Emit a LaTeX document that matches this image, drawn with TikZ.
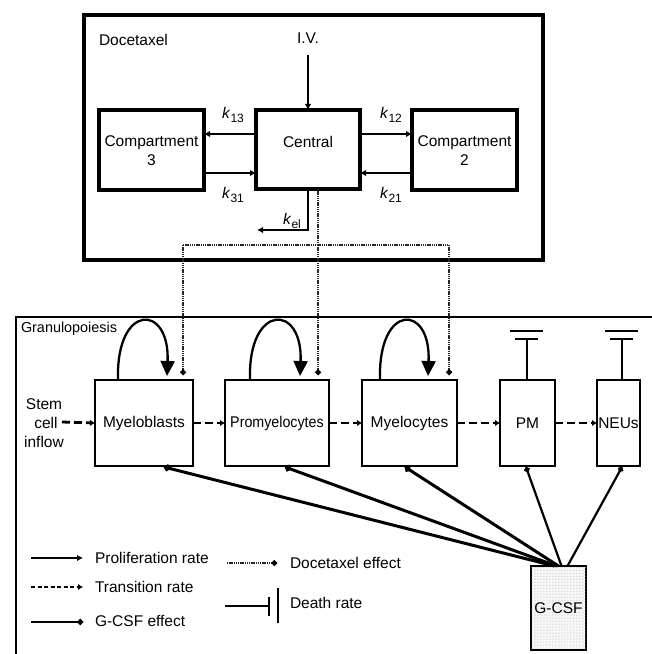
\documentclass[tikz,border=0pt]{standalone}
\usepackage{fontspec}
\setmainfont{Liberation Sans}
\usetikzlibrary{arrows.meta,patterns}
\newcommand{\ksub}[1]{\textit{k}\raisebox{-0.5ex}{\fontsize{12bp}{12bp}\selectfont #1}}
\begin{document}
\begin{tikzpicture}[x=1bp,y=-1bp,
  every node/.style={font=\fontsize{15.5bp}{19bp}\selectfont, inner sep=0pt, outer sep=0pt},
  frame/.style={draw, line width=3.2bp},
  pkbox/.style={draw, line width=3.2bp, minimum width=105bp, minimum height=80bp},
  cellbox/.style={draw, line width=2.2bp, minimum height=86bp},
  pk/.style={line width=2.8bp, -{Latex[length=6bp,width=6.5bp]}},
  trans/.style={line width=2.8bp, dash pattern=on 8bp off 4bp, -{Latex[length=5bp,width=6.5bp]}},
  prolif/.style={line width=2.3bp, -{Triangle[length=15bp,width=14bp]}},
  prolifleg/.style={line width=2.8bp, -{Latex[length=6bp,width=6.5bp]}},
  dotline/.style={line width=2.4bp, black!85, dash pattern=on 1.3bp off 0.9bp},
  doce/.style={dotline, -{Circle[length=5.5bp,black]}},
  gline/.style={line width=3bp, -{Circle[length=6.5bp]}},
  gthin/.style={line width=2.2bp, -{Circle[length=5.5bp]}},
  death/.style={line width=2.2bp},
]
\useasboundingbox (0,0) rectangle (652,654);

% ---------------- Docetaxel PK frame ----------------
\node[frame, minimum width=459bp, minimum height=245bp] (doc) at (313.5,137.5) {};
\node[anchor=west] (doclab) at (99,40) {Docetaxel};
\node (iv) at (308,38) {I.V.};
\node[pkbox, minimum width=104bp, minimum height=79bp] (cen) at (308,149.5) {};
\node (centxt) at (308,142) {Central};
\node[pkbox] (c3) at (151.5,150) {};
\node[align=center] (c3txt) at (151.5,150.5) {Compartment\\3};
\node[pkbox] (c2) at (464.5,150) {};
\node[align=center] (c2txt) at (464.5,150.5) {Compartment\\2};

\coordinate (ivs) at (308,55);
\draw[pk] (ivs) -- (cen.north);

\draw[pk] (cen.west |- 0,134) -- (c3.east |- 0,134);
\draw[pk] (c3.east |- 0,173) -- (cen.west |- 0,173);
\draw[pk] (cen.east |- 0,134) -- (c2.west |- 0,134);
\draw[pk] (c2.west |- 0,173) -- (cen.east |- 0,173);

\node (k13) at (233,115) {\ksub{13}};
\node (k31) at (233,195) {\ksub{31}};
\node (k12) at (391,115) {\ksub{12}};
\node (k21) at (391,195) {\ksub{21}};
\node (kel) at (292,221) {\ksub{el}};

\coordinate (kelc) at (308,230);
\coordinate (kele) at (257,230);
\draw[pk] (cen.south) -- (kelc) -- (kele);

% ---------------- Granulopoiesis frame ----------------
\draw[line width=2.8bp] (660,317) -- (16,317) -- (16,660);
\node[anchor=west, font=\fontsize{14.4bp}{17bp}\selectfont] (granlab) at (21,329) {Granulopoiesis};

\node[cellbox, minimum width=98bp] (mb) at (144,423) {Myeloblasts};
\node[cellbox, minimum width=104bp] (pro) at (277,423) {\scalebox{0.92}[1]{Promyelocytes}};
\node[cellbox, minimum width=95bp] (myc) at (409.5,423) {Myelocytes};
\node[cellbox, minimum width=55bp] (pm) at (527.5,423) {PM};
\node[cellbox, minimum width=43bp] (neu) at (618.5,423) {NEUs};

\node[align=center] (stem) at (44,423) {Stem\\\hspace*{4bp}cell\\inflow};
\coordinate (stemout) at (62,422);
\draw[trans] (stemout) -- (mb.west);
\draw[trans] (mb.east) -- (pro.west);
\draw[trans] (pro.east) -- (myc.west);
\draw[trans] (myc.east) -- (pm.west);
\draw[trans] (pm.east) -- (neu.west);

% self-renewal loops
\coordinate (mbL) at (118,379); \coordinate (mbR) at (167,376);
\coordinate (proL) at (250,379); \coordinate (proR) at (300,376);
\coordinate (mycL) at (380,379); \coordinate (mycR) at (428,376);
\draw[prolif] (mbL) .. controls (116,303) and (170,303) .. (mbR);
\draw[prolif] (proL) .. controls (248,303) and (303,303) .. (proR);
\draw[prolif] (mycL) .. controls (378,303) and (431,303) .. (mycR);

% docetaxel effect
\coordinate (dj) at (318,245);
\coordinate (dl) at (183,245);
\coordinate (dr) at (449,245);
\coordinate (mbD) at (183,375);
\coordinate (proD) at (318,375);
\coordinate (mycD) at (449,375);
\draw[dotline] (cen.south -| dj) -- (dj);
\draw[dotline] (dl) -- (dr);
\draw[doce] (dl) -- (mbD);
\draw[doce] (dj) -- (proD);
\draw[doce] (dr) -- (mycD);

% death rates
\coordinate (pmd) at (527,339);
\coordinate (neud) at (622,339);
\draw[death] (pm.north -| pmd) -- (pmd);
\draw[death] ([xshift=-12bp]pmd) -- ([xshift=11bp]pmd);
\draw[death] ([xshift=-17bp,yshift=8bp]pmd) -- ([xshift=16bp,yshift=8bp]pmd);
\draw[death] (neu.north -| neud) -- (neud);
\draw[death] ([xshift=-12bp]neud) -- ([xshift=11bp]neud);
\draw[death] ([xshift=-17bp,yshift=8bp]neud) -- ([xshift=16bp,yshift=8bp]neud);

% G-CSF
\node[draw, line width=2.6bp, minimum width=55bp, minimum height=84bp, fill=gray!6,
      postaction={pattern=dots, pattern color=gray!65}] (gc) at (558.5,608) {};
\node (gctxt) at (558.5,608) {G-CSF};
\coordinate (gmb) at (164,467);
\coordinate (gpro) at (285,467);
\coordinate (gmyc) at (405,467);
\coordinate (gpm) at (526,467);
\coordinate (gneu) at (622,467);
\draw[gline] ([xshift=-4bp]gc.north) -- (gmb);
\draw[gline] ([xshift=-2bp]gc.north) -- (gpro);
\draw[gline] ([xshift=0bp]gc.north) -- (gmyc);
\draw[gthin] ([xshift=3bp]gc.north) -- (gpm);
\draw[gthin] ([xshift=9bp]gc.north) -- (gneu);

% ---------------- Legend ----------------
\coordinate (l1a) at (31,558); \coordinate (l1b) at (83,558);
\coordinate (l2a) at (31,587); \coordinate (l2b) at (83,587);
\coordinate (l3a) at (31,622); \coordinate (l3b) at (83,622);
\coordinate (l4a) at (227,563); \coordinate (l4b) at (277,563);
\coordinate (l5a) at (225,606); \coordinate (l5b) at (269,606);
\draw[prolifleg] (l1a) -- (l1b);
\draw[trans, dash pattern=on 4bp off 2.5bp] (l2a) -- (l2b);
\draw[gthin, line width=2.8bp] (l3a) -- (l3b);
\draw[doce] (l4a) -- (l4b);
\draw[death] (l5a) -- (l5b);
\draw[death] ([yshift=9bp]l5b) -- ([yshift=-10bp]l5b);
\draw[death] ([xshift=9bp,yshift=18bp]l5b) -- ([xshift=9bp,yshift=-17bp]l5b);
\node[anchor=west] (t1) at (95,558) {Proliferation rate};
\node[anchor=west] (t2) at (95,587) {Transition rate};
\node[anchor=west] (t3) at (95,621) {G-CSF effect};
\node[anchor=west] (t4) at (290,563) {Docetaxel effect};
\node[anchor=west] (t5) at (290,603) {Death rate};
\end{tikzpicture}
\end{document}
